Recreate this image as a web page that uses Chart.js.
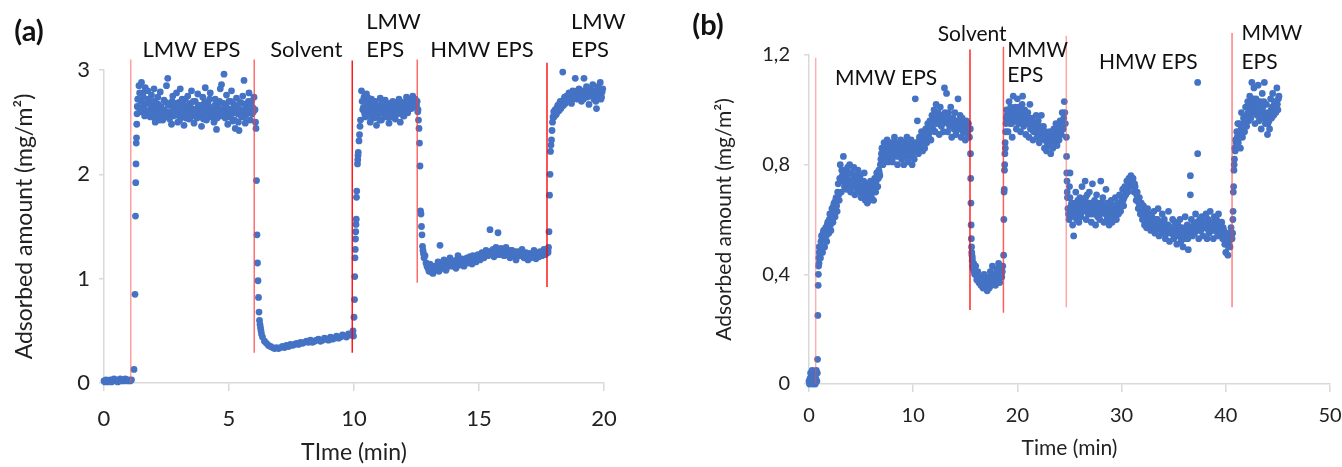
<!DOCTYPE html>
<html>
<head>
<meta charset="utf-8">
<script src="https://cdn.jsdelivr.net/npm/chart.js@4.4.1/dist/chart.umd.min.js"></script>
<style>
  html, body { margin: 0; padding: 0; background: #fff; }
  #wrap { position: relative; width: 1342px; height: 467px; }
  canvas { position: absolute; top: 0; }
  #chartA { left: 0; }
  #chartB { left: 670px; }
</style>
</head>
<body>
<div id="wrap">
  <canvas id="chartA" width="670" height="467"></canvas>
  <canvas id="chartB" width="672" height="467"></canvas>
</div>
<script>
// ---- panel (a): LMW / HMW EPS, time in min, adsorbed amount in mg/m2 ----
const timeA0 = [0.00,0.04,0.08,0.12,0.16,0.20,0.25,0.30,0.35,0.40,0.45,0.50,0.55,0.60,0.65,0.70,0.75,0.80,0.85,0.90,0.95,1.00,1.05,1.10];
const valueA0 = [0.02,0.01,0.03,0.02,0.01,0.02,0.03,0.01,0.02,0.04,0.03,0.02,0.01,0.03,0.04,0.02,0.03,0.02,0.04,0.03,0.02,0.03,0.02,0.03];
const timeA1 = [1.20,1.24,1.26,1.27,1.28,1.29,1.30,1.31,1.32,1.33];
const valueA1 = [0.13,0.85,1.60,1.92,2.10,2.30,2.35,2.48,2.58,2.65];
const timeA2 = [1.35,1.40,1.45,1.50,1.55,1.60,1.65,1.70,1.75,1.80,
  1.85,1.90,1.95,2.00,2.05,2.10,2.15,2.20,2.25,2.30,
  2.35,2.40,2.45,2.50,2.55,2.60,2.65,2.70,2.75,2.80,
  2.85,2.90,2.95,3.00,3.05,3.10,3.15,3.20,3.25,3.30,
  3.35,3.40,3.45,3.50,3.55,3.60,3.65,3.70,3.75,3.80,
  3.85,3.90,3.95,4.00,4.05,4.10,4.15,4.20,4.25,4.30,
  4.35,4.40,4.45,4.50,4.55,4.60,4.65,4.70,4.75,4.80,
  4.85,4.90,4.95,5.00,5.05,5.10,5.15,5.20,5.25,5.30,
  5.35,5.40,5.45,5.50,5.55,5.60,5.65,5.70,5.75,5.80,
  5.85,5.90,5.95,6.00];
const valueA2 = [2.72,2.85,2.60,2.88,2.78,2.66,2.83,2.58,2.80,2.70,
  2.55,2.76,2.64,2.82,2.50,2.68,2.74,2.57,2.79,2.62,
  2.52,2.71,2.60,2.85,2.92,2.56,2.67,2.48,2.75,2.63,
  2.58,2.78,2.50,2.69,2.82,2.55,2.66,2.47,2.72,2.61,
  2.75,2.53,2.68,2.80,2.58,2.49,2.70,2.62,2.77,2.56,
  2.66,2.46,2.74,2.59,2.83,2.52,2.69,2.61,2.78,2.55,
  2.64,2.50,2.72,2.43,2.68,2.58,2.82,2.86,2.60,2.96,
  2.54,2.76,2.48,2.70,2.62,2.80,2.51,2.67,2.44,2.73,
  2.58,2.42,2.69,2.55,2.75,2.90,2.49,2.66,2.60,2.78,
  2.52,2.70,2.64,2.74];
const timeA2b = [1.375,1.425,1.475,1.525,1.575,1.625,1.675,1.725,1.775,1.825,
  1.875,1.925,1.975,2.025,2.075,2.125,2.175,2.225,2.275,2.325,
  2.375,2.425,2.475,2.525,2.575,2.625,2.675,2.725,2.775,2.825,
  2.875,2.925,2.975,3.025,3.075,3.125,3.175,3.225,3.275,3.325,
  3.375,3.425,3.475,3.525,3.575,3.625,3.675,3.725,3.775,3.825,
  3.875,3.925,3.975,4.025,4.075,4.125,4.175,4.225,4.275,4.325,
  4.375,4.425,4.475,4.525,4.575,4.625,4.675,4.725,4.775,4.825,
  4.875,4.925,4.975,5.025,5.075,5.125,5.175,5.225,5.275,5.325,
  5.375,5.425,5.475,5.525,5.575,5.625,5.675,5.725,5.775,5.825,
  5.875,5.925,5.975];
const valueA2b = [2.64,2.78,2.70,2.62,2.74,2.56,2.68,2.61,2.72,2.58,
  2.66,2.60,2.70,2.54,2.63,2.58,2.67,2.52,2.65,2.57,
  2.62,2.55,2.69,2.59,2.66,2.53,2.60,2.70,2.56,2.64,
  2.68,2.57,2.63,2.52,2.61,2.72,2.58,2.66,2.54,2.65,
  2.60,2.67,2.55,2.63,2.70,2.57,2.62,2.54,2.66,2.60,
  2.58,2.64,2.53,2.69,2.62,2.56,2.65,2.72,2.59,2.63,
  2.57,2.66,2.60,2.54,2.63,2.70,2.56,2.62,2.68,2.58,
  2.65,2.59,2.63,2.55,2.70,2.58,2.62,2.52,2.60,2.64,
  2.50,2.62,2.57,2.68,2.61,2.55,2.64,2.58,2.70,2.62,
  2.66,2.58,2.60];
const timeA3 = [6.04,6.06,6.08,6.10,6.12,6.14,6.16,6.18,6.20,6.22,6.24,6.26,6.28,6.30];
const valueA3 = [2.62,2.50,2.44,1.94,1.42,1.15,0.98,0.82,0.68,0.60,0.56,0.53,0.50,0.47];
const timeA4 = [6.34,6.42,6.50,6.58,6.66,6.74,6.82,6.90,6.98,7.06,
  7.14,7.22,7.30,7.38,7.46,7.54,7.62,7.70,7.78,7.86,
  7.94,8.02,8.10,8.18,8.26,8.34,8.42,8.50,8.58,8.66,
  8.74,8.82,8.90,8.98,9.06,9.14,9.22,9.30,9.38,9.46,
  9.54,9.62,9.70,9.78,9.86,9.94];
const valueA4 = [0.44,0.40,0.38,0.36,0.35,0.34,0.33,0.34,0.33,0.34,
  0.35,0.34,0.36,0.35,0.37,0.36,0.37,0.38,0.37,0.39,
  0.38,0.39,0.40,0.39,0.41,0.39,0.40,0.41,0.42,0.40,
  0.41,0.43,0.42,0.41,0.44,0.42,0.43,0.45,0.43,0.44,
  0.46,0.45,0.44,0.47,0.46,0.48];
const timeA5 = [9.96,9.98,10.00,10.02,10.03,10.04,10.05,10.06,10.07,10.08,10.09,10.10,10.11,10.14,10.15,10.16,10.17,10.20,10.22,10.24,10.26];
const valueA5 = [0.50,0.45,0.63,0.80,1.02,1.20,1.28,1.38,1.45,1.52,1.57,1.78,1.84,2.10,2.14,2.18,2.21,2.32,2.38,2.46,2.52];
const timeA6 = [10.30,10.35,10.40,10.45,10.50,10.55,10.60,10.65,10.70,10.75,
  10.80,10.85,10.90,10.95,11.00,11.05,11.10,11.15,11.20,11.25,
  11.30,11.35,11.40,11.45,11.50,11.55,11.60,11.65,11.70,11.75,
  11.80,11.85,11.90,11.95,12.00,12.05,12.10,12.15,12.20,12.25,
  12.30,12.35,12.40,12.45,12.50,12.55];
const valueA6 = [2.80,2.62,2.74,2.55,2.77,2.58,2.68,2.50,2.72,2.60,
  2.54,2.70,2.47,2.65,2.58,2.73,2.52,2.66,2.60,2.71,
  2.55,2.63,2.49,2.68,2.57,2.70,2.61,2.53,2.66,2.58,
  2.72,2.50,2.64,2.69,2.56,2.62,2.74,2.59,2.67,2.71,
  2.63,2.75,2.68,2.72,2.66,2.60];
const timeA6b = [10.325,10.375,10.425,10.475,10.525,10.575,10.625,10.675,10.725,10.775,
  10.825,10.875,10.925,10.975,11.025,11.075,11.125,11.175,11.225,11.275,
  11.325,11.375,11.425,11.475,11.525,11.575,11.625,11.675,11.725,11.775,
  11.825,11.875,11.925,11.975,12.025,12.075,12.125,12.175,12.225,12.275,
  12.325,12.375,12.425,12.475,12.525];
const valueA6b = [2.70,2.64,2.58,2.68,2.62,2.73,2.56,2.65,2.60,2.69,
  2.62,2.57,2.66,2.60,2.52,2.64,2.70,2.58,2.63,2.56,
  2.67,2.60,2.62,2.55,2.65,2.61,2.68,2.57,2.63,2.70,
  2.59,2.66,2.61,2.56,2.68,2.64,2.60,2.70,2.63,2.66,
  2.70,2.65,2.72,2.68,2.70];
const timeA7 = [12.56,12.58,12.60,12.62,12.64,12.66,12.68,12.70,12.72,12.74,12.76,12.78];
const valueA7 = [2.62,2.52,2.44,2.30,2.08,1.65,1.62,1.50,1.42,1.31,1.27,1.24];
const timeA8 = [12.80,12.88,12.96,13.04,13.12,13.20,13.28,13.36,13.44,13.52,
  13.60,13.68,13.76,13.84,13.92,14.00,14.08,14.16,14.24,14.32,
  14.40,14.48,14.56,14.64,14.72,14.80,14.88,14.96,15.04,15.12,
  15.20,15.28,15.36,15.44,15.52,15.60,15.68,15.76,15.84,15.92,
  16.00,16.08,16.16,16.24,16.32,16.40,16.48,16.56,16.64,16.72,
  16.80,16.88,16.96,17.04,17.12,17.20,17.28,17.36,17.44,17.52,
  17.60,17.68,17.76];
const valueA8 = [1.20,1.15,1.10,1.14,1.06,1.12,1.08,1.16,1.32,1.10,
  1.18,1.08,1.14,1.20,1.12,1.17,1.10,1.22,1.13,1.19,
  1.12,1.18,1.15,1.21,1.14,1.19,1.16,1.23,1.18,1.25,
  1.20,1.27,1.22,1.47,1.26,1.21,1.30,1.44,1.24,1.28,
  1.22,1.30,1.25,1.20,1.27,1.23,1.18,1.26,1.22,1.28,
  1.20,1.25,1.18,1.24,1.21,1.27,1.19,1.23,1.26,1.22,
  1.28,1.24,1.27];
const timeA8b = [12.84,12.92,13.00,13.08,13.16,13.24,13.32,13.40,13.48,13.56,
  13.64,13.72,13.80,13.88,13.96,14.04,14.12,14.20,14.28,14.36,
  14.44,14.52,14.60,14.68,14.76,14.84,14.92,15.00,15.08,15.16,
  15.24,15.32,15.40,15.48,15.56,15.64,15.72,15.80,15.88,15.96,
  16.04,16.12,16.20,16.28,16.36,16.44,16.52,16.60,16.68,16.76,
  16.84,16.92,17.00,17.08,17.16,17.24,17.32,17.40,17.48,17.56,
  17.64,17.72];
const valueA8b = [1.22,1.12,1.07,1.10,1.05,1.09,1.12,1.07,1.15,1.11,
  1.14,1.11,1.17,1.13,1.16,1.12,1.18,1.14,1.16,1.13,
  1.16,1.20,1.17,1.19,1.22,1.17,1.21,1.20,1.23,1.20,
  1.24,1.22,1.26,1.24,1.28,1.25,1.27,1.23,1.29,1.25,
  1.26,1.23,1.22,1.27,1.24,1.26,1.21,1.24,1.25,1.23,
  1.22,1.21,1.24,1.20,1.23,1.25,1.22,1.21,1.24,1.25,
  1.23,1.26];
const timeA9 = [17.76,17.78,17.80,17.82,17.84,17.86,17.88,17.90,17.92,17.94,17.96,17.99];
const valueA9 = [1.25,1.30,1.45,1.80,2.00,2.22,2.28,2.33,2.42,2.50,2.55,2.60];
const timeA10 = [18.00,18.05,18.10,18.15,18.20,18.25,18.30,18.35,18.40,18.45,
  18.50,18.55,18.60,18.65,18.70,18.75,18.80,18.85,18.90,18.95,
  19.00,19.05,19.10,19.15,19.20,19.25,19.30,19.35,19.40,19.45,
  19.50,19.55,19.60,19.65,19.70,19.75,19.80,19.85,19.90,19.95];
const valueA10 = [2.55,2.62,2.58,2.66,2.61,2.70,2.65,2.98,2.72,2.68,
  2.75,2.70,2.78,2.73,2.68,2.80,2.74,2.92,2.77,2.72,
  2.82,2.76,2.70,2.80,2.92,2.75,2.84,2.78,2.67,2.81,
  2.76,2.86,2.72,2.80,2.63,2.84,2.78,2.88,2.74,2.82];
const timeA10b = [18.025,18.075,18.125,18.175,18.225,18.275,18.325,18.375,18.425,18.475,
  18.525,18.575,18.625,18.675,18.725,18.775,18.825,18.875,18.925,18.975,
  19.025,19.075,19.125,19.175,19.225,19.275,19.325,19.375,19.425,19.475,
  19.525,19.575,19.625,19.675,19.725,19.775,19.825,19.875,19.925];
const valueA10b = [2.60,2.57,2.64,2.62,2.68,2.63,2.70,2.66,2.74,2.70,
  2.72,2.76,2.70,2.75,2.78,2.72,2.77,2.74,2.80,2.76,
  2.73,2.79,2.75,2.72,2.78,2.80,2.74,2.77,2.82,2.76,
  2.80,2.74,2.78,2.70,2.77,2.82,2.75,2.72,2.79];

// injection markers (red lines) for (a)
const markerTimeA = [1.07, 6.01, 9.93, 12.53, 17.72];
const markerLowA = [0, 0.29, 0.29, 0.96, 0.92];
const markerHighA = [3.10, 3.10, 3.09, 3.10, 3.07];

const labelTextA = ['LMW EPS', 'Solvent', 'LMW', 'EPS', 'HMW EPS', 'LMW', 'EPS'];
const labelTimeA = [3.50, 8.09, 10.49, 10.49, 15.12, 18.68, 18.68];
const labelValueA = [3.19, 3.19, 3.46, 3.19, 3.19, 3.46, 3.19];

// ---- panel (b): MMW / HMW EPS ----
const timeB0 = [0.00,0.05,0.10,0.15,0.20,0.25,0.30,0.35,0.40,0.45,0.50,0.55,0.60,0.65,0.70,0.75,0.80];
const valueB0 = [0.01,0.00,0.02,0.04,0.01,0.03,0.05,0.00,0.02,0.04,0.01,0.03,0.00,0.02,0.05,0.01,0.04];
const timeB1 = [0.82,0.85,0.88,0.90,0.92,0.94,0.96,0.98,1.00];
const valueB1 = [0.09,0.25,0.36,0.40,0.43,0.46,0.44,0.48,0.50];
const timeB2 = [1.0,1.1,1.2,1.3,1.4,1.5,1.6,1.7,1.8,1.9,
  2.0,2.1,2.2,2.3,2.4,2.5,2.6,2.7,2.8,2.9,
  3.0,3.1,3.2,3.3,3.4,3.5,3.6,3.7,3.8,3.9,
  4.0,4.1,4.2,4.3,4.4,4.5,4.6,4.7,4.8,4.9,
  5.0,5.1,5.2,5.3,5.4,5.5,5.6,5.7,5.8,5.9,
  6.0,6.1,6.2,6.3,6.4,6.5,6.6,6.7,6.8,6.9,
  7.0,7.1,7.2,7.3,7.4,7.5,7.6,7.7,7.8,7.9,
  8.0,8.1,8.2,8.3,8.4,8.5,8.6,8.7,8.8,8.9,
  9.0,9.1,9.2,9.3,9.4,9.5,9.6,9.7,9.8,9.9,
  10.0,10.1,10.2,10.3,10.4,10.5,10.6,10.7,10.8,10.9,
  11.0,11.1,11.2,11.3,11.4,11.5,11.6,11.7,11.8,11.9,
  12.0,12.1,12.2,12.3,12.4,12.5,12.6,12.7,12.8,12.9,
  13.0,13.1,13.2,13.3,13.4,13.5,13.6,13.7,13.8,13.9,
  14.0,14.1,14.2,14.3,14.4,14.5,14.6,14.7,14.8,14.9,
  15.0,15.1,15.2];
const valueB2 = [0.50,0.46,0.54,0.48,0.56,0.50,0.57,0.52,0.59,0.55,
  0.62,0.56,0.64,0.59,0.66,0.61,0.68,0.63,0.73,0.67,
  0.80,0.70,0.76,0.83,0.72,0.78,0.71,0.79,0.74,0.80,
  0.70,0.77,0.72,0.79,0.69,0.75,0.71,0.78,0.70,0.76,
  0.68,0.74,0.70,0.77,0.67,0.73,0.66,0.72,0.67,0.74,
  0.68,0.73,0.67,0.75,0.70,0.77,0.72,0.78,0.76,0.82,
  0.86,0.80,0.88,0.82,0.85,0.89,0.81,0.87,0.83,0.88,
  0.81,0.86,0.90,0.83,0.88,0.80,0.87,0.84,0.89,0.82,
  0.86,0.80,0.88,0.83,0.90,0.81,0.87,0.84,0.89,0.80,
  0.85,0.82,1.04,0.88,0.96,0.84,0.90,0.86,0.92,0.85,
  0.91,0.86,0.93,0.88,0.95,0.90,0.96,0.89,0.98,0.93,
  1.00,0.92,1.02,0.95,0.99,0.91,1.01,0.94,0.97,0.92,
  1.08,0.96,1.06,0.92,0.99,0.94,1.01,0.90,0.97,0.93,
  0.99,0.91,0.96,1.04,0.93,0.98,0.90,0.97,0.92,0.95,
  0.89,0.96,0.91];
const timeB2b = [1.05,1.15,1.25,1.35,1.45,1.55,1.65,1.75,1.85,1.95,
  2.05,2.15,2.25,2.35,2.45,2.55,2.65,2.75,2.85,2.95,
  3.05,3.15,3.25,3.35,3.45,3.55,3.65,3.75,3.85,3.95,
  4.05,4.15,4.25,4.35,4.45,4.55,4.65,4.75,4.85,4.95,
  5.05,5.15,5.25,5.35,5.45,5.55,5.65,5.75,5.85,5.95,
  6.05,6.15,6.25,6.35,6.45,6.55,6.65,6.75,6.85,6.95,
  7.05,7.15,7.25,7.35,7.45,7.55,7.65,7.75,7.85,7.95,
  8.05,8.15,8.25,8.35,8.45,8.55,8.65,8.75,8.85,8.95,
  9.05,9.15,9.25,9.35,9.45,9.55,9.65,9.75,9.85,9.95,
  10.05,10.15,10.25,10.35,10.45,10.55,10.65,10.75,10.85,10.95,
  11.05,11.15,11.25,11.35,11.45,11.55,11.65,11.75,11.85,11.95,
  12.05,12.15,12.25,12.35,12.45,12.55,12.65,12.75,12.85,12.95,
  13.05,13.15,13.25,13.35,13.45,13.55,13.65,13.75,13.85,13.95,
  14.05,14.15,14.25,14.35,14.45,14.55,14.65,14.75,14.85,14.95,
  15.05,15.15];
const valueB2b = [0.48,0.52,0.50,0.55,0.53,0.56,0.54,0.58,0.57,0.60,
  0.58,0.62,0.60,0.65,0.63,0.67,0.65,0.70,0.69,0.75,
  0.74,0.78,0.74,0.77,0.75,0.73,0.76,0.74,0.77,0.73,
  0.74,0.72,0.75,0.73,0.76,0.72,0.74,0.73,0.75,0.72,
  0.71,0.72,0.74,0.70,0.71,0.69,0.70,0.68,0.70,0.69,
  0.70,0.71,0.72,0.73,0.74,0.72,0.75,0.77,0.80,0.84,
  0.83,0.85,0.84,0.86,0.83,0.85,0.84,0.86,0.85,0.84,
  0.84,0.85,0.87,0.85,0.84,0.86,0.83,0.86,0.85,0.87,
  0.84,0.86,0.85,0.87,0.84,0.85,0.86,0.83,0.86,0.84,
  0.86,0.87,0.85,0.88,0.86,0.87,0.88,0.89,0.87,0.89,
  0.89,0.90,0.91,0.90,0.92,0.93,0.92,0.94,0.95,0.96,
  0.96,0.97,0.98,0.96,0.95,0.97,0.96,0.98,0.95,0.97,
  0.99,0.98,0.96,0.95,0.97,0.96,0.95,0.97,0.94,0.96,
  0.94,0.95,0.96,0.93,0.95,0.94,0.96,0.93,0.95,0.94,
  0.93,0.94];
const timeB3 = [15.3,15.4,15.48,15.50,15.52,15.54,15.56,15.58,15.60,15.62,15.64,15.66,15.68,15.70];
const valueB3 = [0.95,0.90,0.93,0.84,0.75,0.66,0.58,0.53,0.50,0.48,0.47,0.45,0.46,0.43];
const timeB4 = [15.8,15.9,16.0,16.1,16.2,16.3,16.4,16.5,16.6,16.7,
  16.8,16.9,17.0,17.1,17.2,17.3,17.4,17.5,17.6,17.7,
  17.8,17.9,18.0,18.1,18.2,18.3,18.4,18.5,18.6,
  15.75,15.85,15.95,16.05,16.15,16.25,16.35,16.45,16.55,16.65,
  16.75,16.85,16.95,17.05,17.15,17.25,17.35,17.45,17.55,17.65,
  17.75,17.85,17.95,18.05,18.15,18.25,18.35,18.45,18.55];
const valueB4 = [0.44,0.40,0.43,0.38,0.41,0.37,0.39,0.36,0.38,0.35,
  0.40,0.36,0.37,0.34,0.38,0.35,0.41,0.36,0.43,0.37,
  0.40,0.36,0.42,0.38,0.44,0.37,0.41,0.39,0.43,
  0.42,0.41,0.40,0.40,0.38,0.39,0.37,0.38,0.36,0.37,
  0.37,0.38,0.36,0.37,0.36,0.39,0.38,0.39,0.40,0.39,
  0.38,0.40,0.39,0.41,0.40,0.39,0.42,0.40,0.41];
const timeB5 = [18.68,18.70,18.72,18.74,18.76,18.78,18.80,18.82,18.84,18.87,18.90,18.93,18.96,18.99];
const valueB5 = [0.47,0.60,0.70,0.71,0.78,0.80,0.84,0.88,0.86,0.92,0.95,0.97,1.00,0.96];
const timeB6 = [19.0,19.1,19.2,19.3,19.4,19.5,19.6,19.7,19.8,19.9,
  20.0,20.1,20.2,20.3,20.4,20.5,20.6,20.7,20.8,20.9,
  21.0,21.1,21.2,21.3,21.4,21.5,21.6,21.7,21.8,21.9,
  22.0,22.1,22.2,22.3,22.4,22.5,22.6,22.7,22.8,22.9,
  23.0,23.1,23.2,23.3,23.4,23.5,23.6,23.7,23.8,23.9,
  24.0,24.1,24.2,24.3,24.4,24.5,24.6];
const valueB6 = [0.98,0.92,1.03,0.95,1.00,0.90,1.05,0.96,1.01,0.93,
  1.04,0.95,1.00,0.92,0.98,1.05,0.94,1.00,0.91,0.97,
  0.99,0.90,1.02,0.94,0.97,0.89,0.95,0.92,0.98,0.90,
  0.96,0.88,0.93,0.98,0.90,0.94,0.86,0.92,0.85,0.90,
  0.87,0.92,0.84,0.90,0.86,0.93,0.88,0.95,0.87,0.94,
  0.89,0.96,0.91,0.99,0.93,1.03,0.95];
const timeB6b = [19.05,19.15,19.25,19.35,19.45,19.55,19.65,19.75,19.85,19.95,
  20.05,20.15,20.25,20.35,20.45,20.55,20.65,20.75,20.85,20.95,
  21.05,21.15,21.25,21.35,21.45,21.55,21.65,21.75,21.85,21.95,
  22.05,22.15,22.25,22.35,22.45,22.55,22.65,22.75,22.85,22.95,
  23.05,23.15,23.25,23.35,23.45,23.55,23.65,23.75,23.85,23.95,
  24.05,24.15,24.25,24.35,24.45,24.55];
const valueB6b = [0.96,0.99,0.97,1.01,0.95,0.98,0.97,1.00,0.96,0.99,
  0.98,1.01,0.96,0.99,1.02,0.97,0.99,0.95,0.98,0.96,
  0.95,0.97,0.93,0.96,0.94,0.92,0.95,0.93,0.94,0.92,
  0.92,0.94,0.91,0.93,0.90,0.92,0.89,0.90,0.88,0.89,
  0.89,0.88,0.90,0.87,0.89,0.91,0.90,0.92,0.91,0.92,
  0.93,0.92,0.95,0.94,0.97,0.99];
const timeB7 = [24.70,24.72,24.74,24.76,24.78,24.80,24.85,24.90,24.95];
const valueB7 = [0.90,0.83,0.77,0.74,0.70,0.68,0.64,0.62,0.60];
const timeB8 = [25.0,25.1,25.2,25.3,25.4,25.5,25.6,25.7,25.8,25.9,
  26.0,26.1,26.2,26.3,26.4,26.5,26.6,26.7,26.8,26.9,
  27.0,27.1,27.2,27.3,27.4,27.5,27.6,27.7,27.8,27.9,
  28.0,28.1,28.2,28.3,28.4,28.5,28.6,28.7,28.8,28.9,
  29.0,29.1,29.2,29.3,29.4,29.5,29.6,29.7,29.8,29.9,
  30.0,30.1,30.2,30.3,30.4,30.5,30.6,30.7,30.8,30.9,
  31.0,31.1,31.2,31.3,31.4,31.5,31.6,31.7,31.8,31.9,
  32.0,32.1,32.2,32.3,32.4,32.5,32.6,32.7,32.8,32.9,
  33.0,33.1,33.2,33.3,33.4,33.5,33.6,33.7,33.8,33.9,
  34.0,34.1,34.2,34.3,34.4,34.5,34.6,34.7,34.8,34.9,
  35.0,35.1,35.2,35.3,35.4,35.5,35.6,35.7,35.8,35.9,
  36.0,36.1,36.2,36.3,36.4,36.5,36.6,36.7,36.8,36.9,
  37.0,37.1,37.2,37.3,37.4,37.5,37.6,37.7,37.8,37.9,
  38.0,38.1,38.2,38.3,38.4,38.5,38.6,38.7,38.8,38.9,
  39.0,39.1,39.2,39.3,39.4,39.5,39.6,39.7,39.8,39.9,
  40.0,40.1,40.2,40.3,40.4,40.5,40.6,
  25.05,36.6,37.3];
const valueB8 = [0.72,0.62,0.66,0.58,0.54,0.64,0.70,0.60,0.67,0.59,
  0.68,0.61,0.72,0.63,0.66,0.74,0.60,0.69,0.62,0.70,
  0.64,0.59,0.73,0.62,0.67,0.58,0.69,0.61,0.66,0.60,
  0.74,0.63,0.68,0.59,0.65,0.71,0.60,0.66,0.58,0.64,
  0.67,0.59,0.65,0.61,0.68,0.60,0.66,0.62,0.69,0.63,
  0.67,0.71,0.65,0.72,0.69,0.74,0.70,0.75,0.72,0.76,
  0.73,0.75,0.70,0.72,0.67,0.70,0.64,0.68,0.62,0.66,
  0.60,0.65,0.58,0.63,0.57,0.64,0.59,0.62,0.56,0.61,
  0.58,0.63,0.55,0.60,0.57,0.64,0.54,0.59,0.56,0.62,
  0.55,0.60,0.53,0.58,0.56,0.63,0.52,0.57,0.55,0.60,
  0.53,0.59,0.56,0.51,0.58,0.54,0.60,0.52,0.57,0.50,
  0.56,0.61,0.53,0.58,0.49,0.55,0.76,0.60,0.54,0.58,
  0.55,0.62,0.57,1.10,0.53,0.60,0.56,0.61,0.54,0.59,
  0.57,0.62,0.53,0.60,0.55,0.63,0.56,0.58,0.53,0.61,
  0.56,0.60,0.54,0.62,0.57,0.55,0.59,0.53,0.56,0.51,
  0.48,0.55,0.47,0.52,0.50,0.57,0.53,
  0.77,0.69,0.84];
const timeB8b = [25.05,25.15,25.25,25.35,25.45,25.55,25.65,25.75,25.85,25.95,
  26.05,26.15,26.25,26.35,26.45,26.55,26.65,26.75,26.85,26.95,
  27.05,27.15,27.25,27.35,27.45,27.55,27.65,27.75,27.85,27.95,
  28.05,28.15,28.25,28.35,28.45,28.55,28.65,28.75,28.85,28.95,
  29.05,29.15,29.25,29.35,29.45,29.55,29.65,29.75,29.85,29.95,
  30.05,30.15,30.25,30.35,30.45,30.55,30.65,30.75,30.85,30.95,
  31.05,31.15,31.25,31.35,31.45,31.55,31.65,31.75,31.85,31.95,
  32.05,32.15,32.25,32.35,32.45,32.55,32.65,32.75,32.85,32.95,
  33.05,33.15,33.25,33.35,33.45,33.55,33.65,33.75,33.85,33.95,
  34.05,34.15,34.25,34.35,34.45,34.55,34.65,34.75,34.85,34.95,
  35.05,35.15,35.25,35.35,35.45,35.55,35.65,35.75,35.85,35.95,
  36.05,36.15,36.25,36.35,36.45,36.55,36.65,36.75,36.85,36.95,
  37.05,37.15,37.25,37.35,37.45,37.55,37.65,37.75,37.85,37.95,
  38.05,38.15,38.25,38.35,38.45,38.55,38.65,38.75,38.85,38.95,
  39.05,39.15,39.25,39.35,39.45,39.55,39.65,39.75,39.85,39.95,
  40.05,40.15,40.25,40.35,40.45,40.55];
const valueB8b = [0.68,0.65,0.62,0.64,0.61,0.66,0.63,0.65,0.62,0.64,
  0.64,0.66,0.65,0.67,0.64,0.68,0.65,0.66,0.64,0.66,
  0.62,0.65,0.63,0.66,0.64,0.62,0.65,0.63,0.64,0.62,
  0.66,0.65,0.63,0.64,0.62,0.66,0.63,0.62,0.61,0.63,
  0.62,0.64,0.63,0.65,0.62,0.64,0.63,0.65,0.64,0.66,
  0.65,0.67,0.68,0.69,0.70,0.71,0.72,0.73,0.74,0.73,
  0.74,0.72,0.73,0.70,0.69,0.68,0.66,0.65,0.64,0.63,
  0.62,0.61,0.60,0.61,0.60,0.59,0.61,0.58,0.59,0.58,
  0.60,0.58,0.59,0.57,0.60,0.58,0.57,0.59,0.58,0.57,
  0.58,0.56,0.57,0.55,0.58,0.56,0.57,0.55,0.56,0.57,
  0.56,0.55,0.54,0.56,0.55,0.57,0.56,0.54,0.55,0.53,
  0.54,0.56,0.55,0.53,0.54,0.57,0.56,0.55,0.57,0.56,
  0.58,0.57,0.59,0.56,0.58,0.57,0.59,0.58,0.57,0.58,
  0.59,0.57,0.58,0.56,0.59,0.57,0.58,0.57,0.59,0.56,
  0.58,0.57,0.58,0.59,0.56,0.58,0.55,0.57,0.54,0.53,
  0.51,0.52,0.50,0.54,0.53,0.55];
const timeB9 = [40.65,40.68,40.70,40.72,40.75,40.78,40.80,40.83,40.86,40.90,40.95,41.00,41.05,41.10,41.15];
const valueB9 = [0.55,0.60,0.63,0.70,0.72,0.78,0.80,0.82,0.86,0.85,0.89,0.88,0.92,0.90,0.95];
const timeB10 = [41.2,41.3,41.4,41.5,41.6,41.7,41.8,41.9,42.0,42.1,
  42.2,42.3,42.4,42.5,42.6,42.7,42.8,42.9,43.0,43.1,
  43.2,43.3,43.4,43.5,43.6,43.7,43.8,43.9,44.0,44.1,
  44.2,44.3,44.4,44.5,44.6,44.7,44.8,44.9,45.0,45.1];
const valueB10 = [0.88,0.95,0.86,0.99,0.90,0.97,0.92,1.01,0.94,1.03,
  0.96,1.05,0.97,1.10,0.99,1.08,0.95,1.04,0.98,1.09,
  0.96,1.03,0.93,1.06,0.97,1.10,0.95,1.02,0.91,0.99,
  0.93,1.04,0.97,1.06,0.98,1.03,0.99,1.08,1.00,1.05];
const timeB10b = [41.25,41.35,41.45,41.55,41.65,41.75,41.85,41.95,42.05,42.15,
  42.25,42.35,42.45,42.55,42.65,42.75,42.85,42.95,43.05,43.15,
  43.25,43.35,43.45,43.55,43.65,43.75,43.85,43.95,44.05,44.15,
  44.25,44.35,44.45,44.55,44.65,44.75,44.85,44.95,45.05];
const valueB10b = [0.91,0.90,0.93,0.92,0.95,0.94,0.96,0.97,0.98,0.99,
  1.00,1.01,1.03,1.02,1.04,1.01,1.00,1.02,1.03,1.01,
  0.99,0.98,1.00,1.01,1.03,0.99,0.97,0.96,0.95,0.96,
  0.98,1.00,1.01,0.99,1.02,1.01,1.03,1.02,1.04];

const markerTimeB = [0.64, 15.45, 18.66, 24.69, 40.6];
const markerLowB = [0, 0.27, 0.26, 0.28, 0.28];
const markerHighB = [1.19, 1.22, 1.23, 1.27, 1.28];

const labelTextB = ['MMW EPS', 'Solvent', 'MMW', 'EPS', 'HMW EPS', 'MMW', 'EPS'];
const labelTimeB = [7.40, 15.66, 19.02, 19.02, 32.56, 41.5, 41.5];
const labelValueB = [1.117, 1.274, 1.219, 1.128, 1.175, 1.281, 1.175];

const yTickLabelsB = ['0', '0,4', '0,8', '1,2'];

// ---- helpers ----
const BLUE = '#4472C4';

function zip(times, values) {
  return times.map((t, i) => ({ x: t, y: values[i] }));
}

function markerSets(times, lows, highs, colors) {
  return times.map((t, i) => ({
    type: 'line',
    data: [{ x: t, y: lows[i] }, { x: t, y: highs[i] }],
    borderColor: colors[i],
    borderWidth: 1.5,
    pointRadius: 0,
    clip: false,
    order: 0
  }));
}

const panelText = {
  id: 'panelText',
  afterDraw(chart, args, o) {
    const ctx = chart.ctx, xs = chart.scales.x, ys = chart.scales.y;
    ctx.save();
    ctx.fillStyle = '#111';
    ctx.textBaseline = 'middle';
    ctx.font = o.font;
    o.text.forEach((txt, i) => {
      ctx.textAlign = o.align[i];
      ctx.fillText(txt, xs.getPixelForValue(o.time[i]), ys.getPixelForValue(o.value[i]));
    });
    ctx.font = o.letterFont;
    ctx.textAlign = 'center';
    ctx.fillText(o.letter, o.letterX, o.letterY);
    ctx.restore();
  }
};

function makeChart(id, p) {
  return new Chart(document.getElementById(id), {
    type: 'scatter',
    data: {
      datasets: [{
        data: p.points,
        backgroundColor: BLUE,
        borderWidth: 0,
        pointRadius: 3.4,
        pointHoverRadius: 3.4,
        clip: false,
        order: 1
      }].concat(p.markers)
    },
    options: {
      responsive: false,
      animation: false,
      devicePixelRatio: 1,
      layout: { padding: { left: 0, top: p.top, right: p.right, bottom: 0 } },
      plugins: {
        legend: { display: false },
        tooltip: { enabled: false },
        panelText: p.text
      },
      scales: {
        x: {
          type: 'linear', min: 0, max: p.xMax,
          ticks: { stepSize: p.xStep, color: '#222', padding: p.xTickPad, maxRotation: 0,
                   font: { family: 'Lato', size: p.tickSize } },
          grid: { drawOnChartArea: false, tickLength: 8, color: '#d9d9d9', lineWidth: 1.5 },
          border: { color: '#d9d9d9', width: 1.5 },
          title: { display: true, text: p.xTitle, color: '#222',
                   font: { family: 'Lato', size: p.titleSize },
                   padding: { top: 0, bottom: p.xTitlePad } },
          afterFit: s => { s.height = p.xHeight; s.paddingLeft = 0; s.paddingRight = 0; }
        },
        y: {
          type: 'linear', min: 0, max: p.yMax,
          ticks: { stepSize: p.yStep, color: '#222', padding: p.yTickPad,
                   font: { family: 'Lato', size: p.tickSize },
                   callback: p.yTick },
          grid: { drawOnChartArea: false, tickLength: 5, color: '#d9d9d9', lineWidth: 1.5 },
          border: { color: '#d9d9d9', width: 1.5 },
          title: { display: true, text: 'Adsorbed amount (mg/m²)', color: '#222',
                   font: { family: 'Lato', size: p.titleSize },
                   padding: { top: p.yTitlePad, bottom: 0 } },
          afterFit: s => { s.width = p.yWidth; s.paddingTop = 0; s.paddingBottom = 0; }
        }
      }
    },
    plugins: [panelText]
  });
}

const alignA = ['center', 'center', 'left', 'left', 'center', 'left', 'left'];
const alignB = ['center', 'center', 'left', 'left', 'center', 'left', 'left'];

makeChart('chartA', {
  points: [].concat(
    zip(timeA0, valueA0), zip(timeA1, valueA1), zip(timeA2, valueA2), zip(timeA2b, valueA2b),
    zip(timeA3, valueA3), zip(timeA4, valueA4), zip(timeA5, valueA5),
    zip(timeA6, valueA6), zip(timeA6b, valueA6b), zip(timeA7, valueA7),
    zip(timeA8, valueA8), zip(timeA8b, valueA8b),
    zip(timeA9, valueA9), zip(timeA10, valueA10), zip(timeA10b, valueA10b)),
  markers: markerSets(markerTimeA, markerLowA, markerHighA,
    ['rgba(255,80,80,0.55)', 'rgba(255,60,60,0.75)', 'rgba(255,0,0,0.9)', 'rgba(255,60,60,0.75)', 'rgba(255,0,0,0.9)']),
  top: 70, right: 66, yWidth: 104, xHeight: 84,
  xMax: 20, xStep: 5, yMax: 3, yStep: 1,
  tickSize: 22, titleSize: 23, xTickPad: 15, yTickPad: 9, yTitlePad: 11, xTitlePad: 1,
  xTitle: 'TIme (min)',
  yTick: v => v,
  text: { text: labelTextA, time: labelTimeA, value: labelValueA, align: alignA,
          font: '22px Lato', letter: '(a)', letterFont: 'bold 29px Lato', letterX: 29, letterY: 32 }
});

makeChart('chartB', {
  points: [].concat(
    zip(timeB0, valueB0), zip(timeB1, valueB1), zip(timeB2, valueB2), zip(timeB2b, valueB2b),
    zip(timeB3, valueB3), zip(timeB4, valueB4), zip(timeB5, valueB5),
    zip(timeB6, valueB6), zip(timeB6b, valueB6b), zip(timeB7, valueB7),
    zip(timeB8, valueB8), zip(timeB8b, valueB8b),
    zip(timeB9, valueB9), zip(timeB10, valueB10), zip(timeB10b, valueB10b)),
  markers: markerSets(markerTimeB, markerLowB, markerHighB,
    ['rgba(255,80,80,0.45)', 'rgba(255,0,0,0.85)', 'rgba(255,40,40,0.75)', 'rgba(255,80,80,0.5)', 'rgba(255,60,60,0.65)']),
  top: 55, right: 12, yWidth: 139, xHeight: 83,
  xMax: 50, xStep: 10, yMax: 1.2, yStep: 0.4,
  tickSize: 20, titleSize: 21, xTickPad: 12, yTickPad: 14, yTitlePad: 42, xTitlePad: 6,
  xTitle: 'Time (min)',
  yTick: (v, i) => yTickLabelsB[i],
  text: { text: labelTextB, time: labelTimeB, value: labelValueB, align: alignB,
          font: '21px Lato', letter: '(b)', letterFont: 'bold 29px Lato', letterX: 38, letterY: 26 }
});
</script>
</body>
</html>
